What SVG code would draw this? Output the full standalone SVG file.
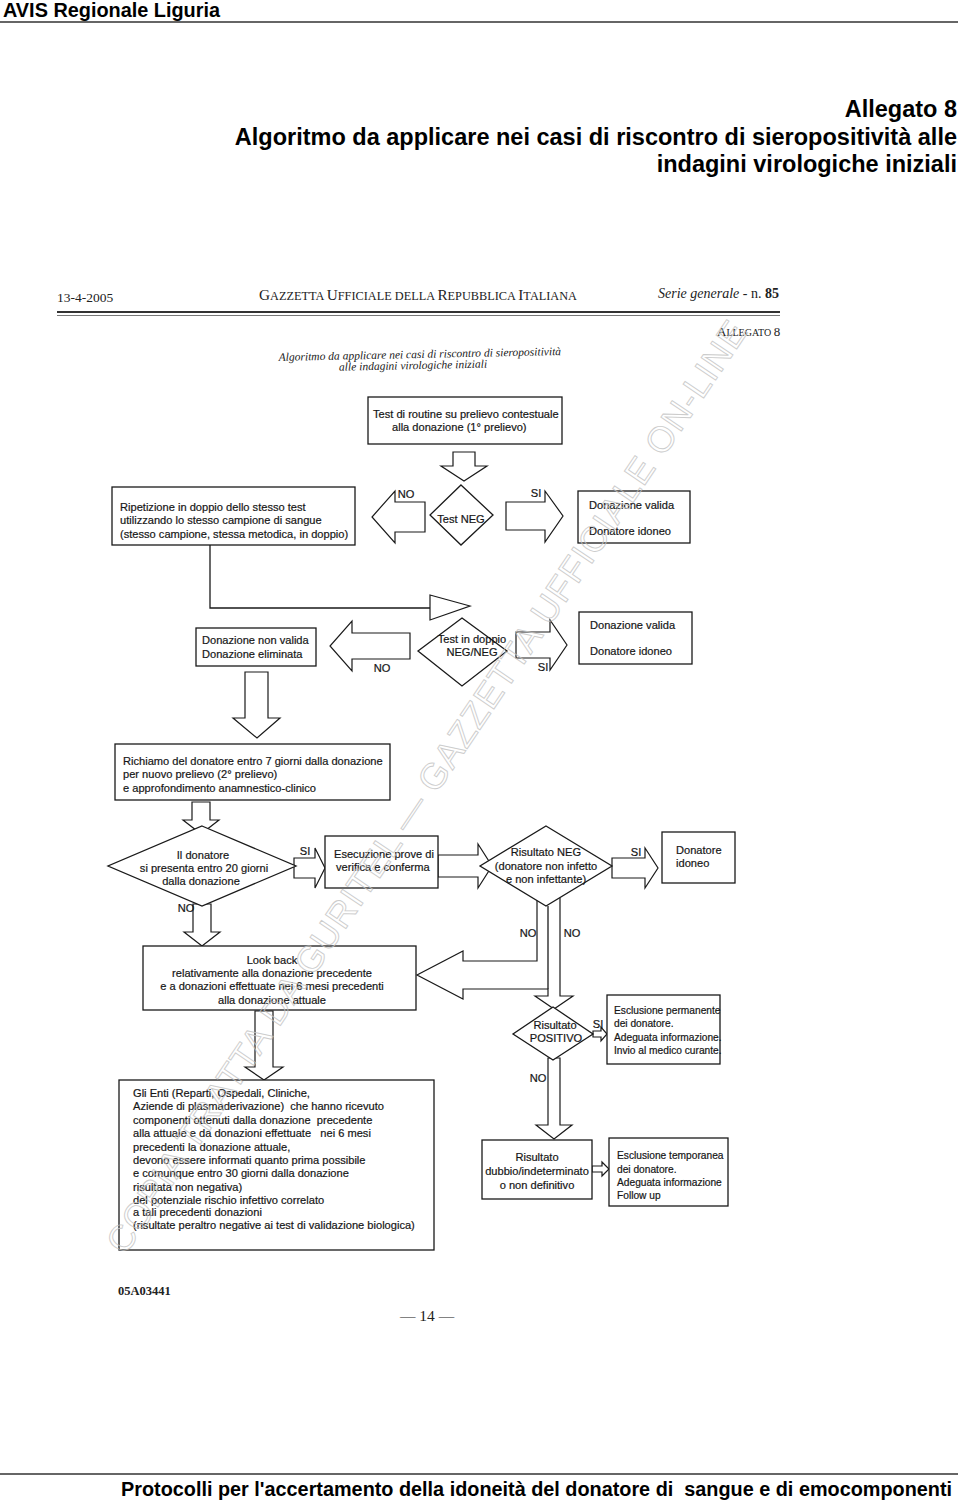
<svg xmlns="http://www.w3.org/2000/svg" width="960" height="1501" viewBox="0 0 960 1501">
<defs>
<style>
.box{fill:#fff;stroke:#1a1a1a;stroke-width:1.3}
.arr{fill:#fff;stroke:#1a1a1a;stroke-width:1.2;stroke-linejoin:miter}
.ln{fill:none;stroke:#1a1a1a;stroke-width:1.3}
.t{font-family:"Liberation Sans",Arial,sans-serif;font-size:11.1px;fill:#161616;stroke:#161616;stroke-width:0.2}
.s{font-size:10.2px}
.m{text-anchor:middle}
.hd{font-family:"Liberation Sans",Arial,sans-serif;font-weight:bold;fill:#000}
.sr{font-family:"Liberation Serif","Times New Roman",serif;fill:#222}
.wm{font-family:"Liberation Sans",Arial,sans-serif;font-size:36px;fill:none;stroke:#c4c4c4;stroke-width:0.9}
</style>
</defs>
<rect width="960" height="1501" fill="#fff"/>

<g id="page-header">
<text class="hd" x="3" y="17" font-size="20" textLength="217" lengthAdjust="spacingAndGlyphs">AVIS Regionale Liguria</text>
<line x1="0" y1="22" x2="958" y2="22" stroke="#666" stroke-width="2.2"/>
<text class="hd" x="957" y="117" font-size="23.5" text-anchor="end">Allegato 8</text>
<text class="hd" x="957" y="145" font-size="23.5" text-anchor="end">Algoritmo da applicare nei casi di riscontro di sieropositività alle</text>
<text class="hd" x="957" y="172" font-size="23.5" text-anchor="end">indagini virologiche iniziali</text>
</g>

<g id="gazzetta-header">
<text class="sr" x="57" y="302" font-size="13.5">13-4-2005</text>
<text class="sr" x="259" y="300" font-size="12.5" textLength="318" lengthAdjust="spacingAndGlyphs"><tspan font-size="15.5">G</tspan>AZZETTA <tspan font-size="15.5">U</tspan>FFICIALE DELLA <tspan font-size="15.5">R</tspan>EPUBBLICA <tspan font-size="15.5">I</tspan>TALIANA</text>
<text class="sr" x="658" y="298" font-size="14"><tspan font-style="italic">Serie generale</tspan> - n. <tspan font-weight="bold">85</tspan></text>
<line x1="57" y1="312" x2="780" y2="312" stroke="#333" stroke-width="2"/>
<line x1="57" y1="315.5" x2="780" y2="315.5" stroke="#555" stroke-width="0.8"/>
<text class="sr" x="717" y="336" font-size="10"><tspan font-size="13">A</tspan>LLEGATO <tspan font-size="13">8</tspan></text>
<g transform="rotate(-1.2 420 362)">
<text class="sr" x="420" y="358" font-size="11.5" font-style="italic" text-anchor="middle">Algoritmo da applicare nei casi di riscontro di sieropositività</text>
<text class="sr" x="413" y="369" font-size="11.5" font-style="italic" text-anchor="middle">alle indagini virologiche iniziali</text>
</g>
</g>

<g id="connectors">
<polygon class="arr" points="453,452 475,452 475,466 487,466 464,481 441,466 453,466"/>
<polygon class="arr" points="425,502 395,502 395,491 372,517 395,543 395,532 425,532"/>
<polygon class="arr" points="506,502 545,502 545,491 563,516 545,542 545,530 506,530"/>
<polyline class="ln" points="210,545 210,608 430,608"/>
<polygon class="arr" points="430,595 470,606 430,620"/>
<polygon class="arr" points="410,633 352,633 352,621 330,646 352,671 352,659 410,659"/>
<polygon class="arr" points="516,632 550,632 550,620 567,645 550,670 550,658 516,658"/>
<polygon class="arr" points="245,672 268,672 268,718 280,718 257,738 233,718 245,718"/>
<polygon class="arr" points="192,802 210,802 210,820 219,820 201,834 183,820 192,820"/>
<polygon class="arr" points="294,858 315,858 315,848 325,868 315,888 315,878 294,878"/>
<polygon class="arr" points="438,855 478,855 478,844 492,866 478,888 478,877 438,877"/>
<polygon class="arr" points="612,858 645,858 645,848 658,868 645,888 645,878 612,878"/>
<polygon class="arr" points="193,904 211,904 211,932 220,932 202,946 184,932 193,932"/>
<path class="arr" d="M537,900 V961 H463 V951 L417,975 L463,999 V989 H548 V996 H535 L554,1009 L573,996 H560 V898"/>
<line class="ln" x1="548" y1="906" x2="548" y2="989"/>
<polygon class="arr" points="593,1031 601,1031 601,1027 607,1034 601,1041 601,1037 593,1037"/>
<polygon class="arr" points="548,1058 560,1058 560,1125 572,1125 554,1139 536,1125 548,1125"/>
<polygon class="arr" points="592,1166 602,1166 602,1162 609,1169 602,1176 602,1172 592,1172"/>
<polygon class="arr" points="255,1011 273,1011 273,1067 283,1067 264,1080 245,1067 255,1067"/>
<text class="t m" x="406" y="498">NO</text>
<text class="t m" x="536" y="497">SI</text>
<text class="t m" x="382" y="672">NO</text>
<text class="t m" x="543" y="671">SI</text>
<text class="t m" x="305" y="855">SI</text>
<text class="t m" x="636" y="856">SI</text>
<text class="t m" x="186" y="912">NO</text>
<text class="t m" x="528" y="937">NO</text>
<text class="t m" x="572" y="937">NO</text>
<text class="t m" x="598" y="1028">SI</text>
<text class="t m" x="538" y="1082">NO</text>
</g>

<g id="n-test-routine">
<rect class="box" x="368" y="397" width="194" height="47"/>
<text class="t" x="373" y="418">Test di routine su prelievo contestuale</text>
<text class="t" x="392" y="431">alla donazione (1° prelievo)</text>
</g>
<g id="n-test-neg">
<polygon class="box" points="461,485 493,515 461,545 430,515"/>
<text class="t m" x="461" y="523">Test NEG</text>
</g>
<g id="n-valida-1">
<rect class="box" x="578" y="491" width="112" height="52"/>
<text class="t" x="589" y="509">Donazione valida</text>
<text class="t" x="589" y="535">Donatore idoneo</text>
</g>
<g id="n-ripetizione">
<rect class="box" x="112" y="487" width="243" height="58"/>
<text class="t" x="120" y="511">Ripetizione in doppio dello stesso test</text>
<text class="t" x="120" y="524">utilizzando lo stesso campione di sangue</text>
<text class="t" x="120" y="538">(stesso campione, stessa metodica, in doppio)</text>
</g>
<g id="n-non-valida">
<rect class="box" x="196" y="628" width="120" height="38"/>
<text class="t" x="202" y="644">Donazione non valida</text>
<text class="t" x="202" y="658">Donazione eliminata</text>
</g>
<g id="n-test-doppio">
<polygon class="box" points="462,618 507,651 462,686 418,651"/>
<text class="t m" x="472" y="643">Test in doppio</text>
<text class="t m" x="472" y="656">NEG/NEG</text>
</g>
<g id="n-valida-2">
<rect class="box" x="579" y="612" width="113" height="52"/>
<text class="t" x="590" y="629">Donazione valida</text>
<text class="t" x="590" y="655">Donatore idoneo</text>
</g>
<g id="n-richiamo">
<rect class="box" x="115" y="744" width="275" height="56"/>
<text class="t" x="123" y="765">Richiamo del donatore entro 7 giorni dalla donazione</text>
<text class="t" x="123" y="778">per nuovo prelievo (2° prelievo)</text>
<text class="t" x="123" y="792">e approfondimento anamnestico-clinico</text>
</g>
<g id="n-si-presenta">
<polygon class="box" points="202,826 296,866 202,906 108,866"/>
<text class="t m" x="203" y="859">Il donatore</text>
<text class="t m" x="204" y="872">si presenta entro 20 giorni</text>
<text class="t m" x="201" y="885">dalla donazione</text>
</g>
<g id="n-esecuzione">
<rect class="box" x="325" y="836" width="113" height="52"/>
<text class="t" x="334" y="858">Esecuzione prove di</text>
<text class="t" x="336" y="871">verifica e conferma</text>
</g>
<g id="n-risultato-neg">
<polygon class="box" points="546,826 612,866 546,906 480,866"/>
<text class="t m" x="546" y="856">Risultato NEG</text>
<text class="t m" x="546" y="870">(donatore non infetto</text>
<text class="t m" x="546" y="883">e non infettante)</text>
</g>
<g id="n-donatore-idoneo">
<rect class="box" x="662" y="832" width="73" height="51"/>
<text class="t" x="676" y="854">Donatore</text>
<text class="t" x="676" y="867">idoneo</text>
</g>
<g id="n-look-back">
<rect class="box" x="143" y="946" width="273" height="64"/>
<text class="t m" x="272" y="964">Look back</text>
<text class="t m" x="272" y="977">relativamente alla donazione precedente</text>
<text class="t m" x="272" y="990">e a donazioni effettuate nei 6 mesi precedenti</text>
<text class="t m" x="272" y="1004">alla donazione attuale</text>
</g>
<g id="n-positivo">
<polygon class="box" points="553,1007 593,1034 553,1060 513,1034"/>
<text class="t m" x="555" y="1029">Risultato</text>
<text class="t m" x="556" y="1042">POSITIVO</text>
</g>
<g id="n-esclusione-permanente">
<rect class="box" x="607" y="995" width="113" height="69"/>
<text class="t s" x="614" y="1014">Esclusione permanente</text>
<text class="t s" x="614" y="1027">dei donatore.</text>
<text class="t s" x="614" y="1041">Adeguata informazione.</text>
<text class="t s" x="614" y="1054">Invio al medico curante.</text>
</g>
<g id="n-dubbio">
<rect class="box" x="482" y="1140" width="110" height="59"/>
<text class="t m" x="537" y="1161">Risultato</text>
<text class="t m" x="537" y="1175">dubbio/indeterminato</text>
<text class="t m" x="537" y="1189">o non definitivo</text>
</g>
<g id="n-esclusione-temporanea">
<rect class="box" x="609" y="1138" width="119" height="68"/>
<text class="t s" x="617" y="1159">Esclusione temporanea</text>
<text class="t s" x="617" y="1173">dei donatore.</text>
<text class="t s" x="617" y="1186">Adeguata informazione</text>
<text class="t s" x="617" y="1199">Follow up</text>
</g>
<g id="n-gli-enti">
<rect class="box" x="119" y="1080" width="315" height="170"/>
<text class="t" x="133" y="1097">Gli Enti (Reparti, Ospedali, Cliniche,</text>
<text class="t" x="133" y="1110" xml:space="preserve">Aziende di plasmaderivazione)  che hanno ricevuto</text>
<text class="t" x="133" y="1124" xml:space="preserve">componenti ottenuti dalla donazione  precedente</text>
<text class="t" x="133" y="1137" xml:space="preserve">alla attuale e da donazioni effettuate   nei 6 mesi</text>
<text class="t" x="133" y="1151">precedenti la donazione attuale,</text>
<text class="t" x="133" y="1164">devono essere informati quanto prima possibile</text>
<text class="t" x="133" y="1177">e comunque entro 30 giorni dalla donazione</text>
<text class="t" x="133" y="1191">risultata non negativa)</text>
<text class="t" x="133" y="1204">del potenziale rischio infettivo correlato</text>
<text class="t" x="133" y="1216">a tali precedenti donazioni</text>
<text class="t" x="133" y="1229">(risultate peraltro negative ai test di validazione biologica)</text>
</g>

<g id="page-footer">
<text class="sr" x="118" y="1295" font-size="12.5" font-weight="bold" fill="#111">05A03441</text>
<text class="sr" x="427" y="1321" font-size="15.5" text-anchor="middle">— 14 —</text>
<line x1="0" y1="1474" x2="958" y2="1474" stroke="#666" stroke-width="2.2"/>
<text class="hd" x="121" y="1496" font-size="20" textLength="831" lengthAdjust="spacingAndGlyphs" xml:space="preserve">Protocolli per l'accertamento della idoneità del donatore di  sangue e di emocomponenti</text>
</g>

<g id="watermark" opacity="0.85">
<text class="wm" transform="translate(125 1256) rotate(-56)" textLength="1115" lengthAdjust="spacing">COPIA TRATTA DA GURITEL — GAZZETTA UFFICIALE ON-LINE</text>
</g>
</svg>
